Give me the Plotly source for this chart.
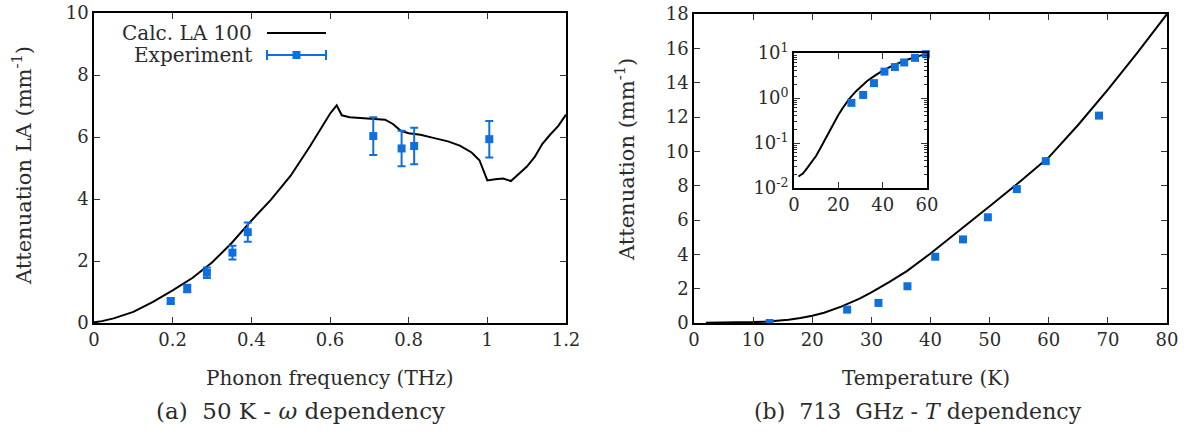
import plotly.graph_objects as go

# ---------------- data ----------------
# (a) attenuation vs phonon frequency at 50 K
freq_calc = [0.0, 0.02, 0.05, 0.10, 0.15, 0.20, 0.25, 0.30, 0.35, 0.40, 0.45, 0.50, 0.55, 0.58,
             0.60, 0.617, 0.63, 0.65, 0.68, 0.71, 0.74, 0.76, 0.78, 0.80, 0.83, 0.86, 0.90,
             0.93, 0.96, 0.98, 0.99, 1.00, 1.02, 1.04, 1.06, 1.08, 1.10, 1.12, 1.14, 1.16,
             1.18, 1.20]
atten_calc = [0.02, 0.06, 0.15, 0.36, 0.68, 1.05, 1.45, 1.95, 2.58, 3.30, 3.98, 4.75, 5.72, 6.35,
              6.75, 7.02, 6.70, 6.64, 6.62, 6.60, 6.56, 6.42, 6.20, 6.12, 6.07, 5.98, 5.86,
              5.72, 5.50, 5.25, 4.90, 4.60, 4.64, 4.66, 4.58, 4.80, 5.04, 5.35, 5.78, 6.08,
              6.35, 6.72]
freq_exp = [0.195, 0.237, 0.287, 0.352, 0.391, 0.710, 0.782, 0.814, 1.005]
atten_exp = [0.71, 1.11, 1.62, 2.27, 2.93, 6.03, 5.63, 5.71, 5.93]
err_exp = [0.08, 0.12, 0.17, 0.22, 0.31, 0.61, 0.57, 0.59, 0.59]

# (b) attenuation vs temperature at 713 GHz
temp_calc = [2, 4, 6, 8, 10, 12, 14, 16, 18, 20, 22, 25, 28, 30, 33, 36, 40, 45, 50, 55, 60,
             65, 70, 75, 80]
atten_t_calc = [0.018, 0.021, 0.028, 0.038, 0.052, 0.078, 0.12, 0.19, 0.29, 0.42, 0.60, 0.97,
                1.42, 1.78, 2.38, 3.02, 4.05, 5.40, 6.80, 8.20, 9.65, 11.55, 13.60, 15.75,
                18.0]
temp_exp = [12.8, 25.9, 31.2, 36.1, 40.8, 45.5, 49.7, 54.6, 59.5, 68.5]
atten_t_exp = [0.0, 0.78, 1.17, 2.14, 3.86, 4.87, 6.16, 7.80, 9.43, 12.08]

# inset tick labels
inset_tickvals = [0.01, 0.1, 1, 10]
inset_ticktext = ["10<sup>-2</sup>", "10<sup>-1</sup>", "10<sup>0</sup>", "10<sup>1</sup>"]
inset_minor = [m * d for d in (0.01, 0.1, 1) for m in range(2, 10)]

BLUE = "#0f6fdc"
TXT = "#2b2b2b"
FONT = "DejaVu Serif"
W, H = 1192, 433


def px(x):
    return x / W


def py(y):
    return 1 - y / H


fig = go.Figure()
fig.add_trace(go.Scatter(x=freq_calc, y=atten_calc, mode="lines",
                         line=dict(color="black", width=2), xaxis="x", yaxis="y"))
fig.add_trace(go.Scatter(x=freq_exp, y=atten_exp, mode="markers",
                         marker=dict(symbol="square", size=8, color=BLUE),
                         error_y=dict(type="data", array=err_exp, color=BLUE,
                                      thickness=2, width=4),
                         xaxis="x", yaxis="y"))
fig.add_trace(go.Scatter(x=temp_calc, y=atten_t_calc, mode="lines",
                         line=dict(color="black", width=2), xaxis="x2", yaxis="y2"))
fig.add_trace(go.Scatter(x=temp_exp, y=atten_t_exp, mode="markers",
                         marker=dict(symbol="square", size=8, color=BLUE),
                         xaxis="x2", yaxis="y2"))
# inset (log scale), points up to 60 K
fig.add_trace(go.Scatter(x=temp_calc, y=atten_t_calc, mode="lines",
                         line=dict(color="black", width=2), xaxis="x3", yaxis="y3"))
fig.add_trace(go.Scatter(x=temp_exp[:-1], y=atten_t_exp[:-1], mode="markers",
                         marker=dict(symbol="square", size=8, color=BLUE),
                         xaxis="x3", yaxis="y3", cliponaxis=False))

axis_common = dict(showline=True, linecolor="black", linewidth=1.6, mirror="ticks",
                   ticks="inside", ticklen=6, tickwidth=1.2, tickcolor="#333",
                   showgrid=False, zeroline=False, automargin=False,
                   tickfont=dict(family=FONT, size=18, color=TXT))

fig.update_layout(
    width=W, height=H, margin=dict(l=0, r=0, t=0, b=0, autoexpand=False),
    paper_bgcolor="white", plot_bgcolor="white", showlegend=False,
    xaxis=dict(domain=[px(94), px(566)], range=[0, 1.2], dtick=0.2, anchor="y", **axis_common),
    yaxis=dict(domain=[py(323), py(13)], range=[0, 10], dtick=2, anchor="x", **axis_common),
    xaxis2=dict(domain=[px(694), px(1167)], range=[0, 80], dtick=10, anchor="y2", **axis_common),
    yaxis2=dict(domain=[py(323), py(14)], range=[0, 18], dtick=2, anchor="x2", **axis_common),
    xaxis3=dict(domain=[px(794), px(927)], range=[0, 60], dtick=20, anchor="y3", **axis_common),
    yaxis3=dict(domain=[py(188), py(53)], type="log", range=[-2, 1], anchor="x3",
                tickvals=inset_tickvals, ticktext=inset_ticktext,
                minor=dict(ticks="inside", ticklen=3, tickcolor="#333", showgrid=False,
                           tickvals=inset_minor),
                **axis_common),
)

ann = []


def text(x, y, s, size=20, xanchor="center", angle=0):
    ann.append(dict(x=px(x), y=py(y), xref="paper", yref="paper", text=s, showarrow=False,
                    xanchor=xanchor, yanchor="middle", textangle=angle,
                    font=dict(family=FONT, size=size, color=TXT)))


text(330, 378, "Phonon frequency (THz)")
text(926, 378, "Temperature (K)")
text(300, 411, "(a)&nbsp;&nbsp;50 K - <i>ω</i> dependency", size=23)
text(918, 411, "(b)&nbsp;&nbsp;713&nbsp;&nbsp;GHz - <i>T</i> dependency", size=22)
text(22, 166, "Attenuation LA (mm<sup>-1</sup>)", angle=-90, size=21)
text(625, 160, "Attenuation (mm<sup>-1</sup>)", angle=-90, size=21)
# legend (gnuplot style: text left, sample right)
text(254, 33, "Calc. LA 100", xanchor="right")
text(254, 55, "Experiment", xanchor="right")

shapes = [
    dict(type="line", xref="paper", yref="paper", x0=px(267), x1=px(326), y0=py(33), y1=py(33),
         line=dict(color="black", width=2)),
    dict(type="line", xref="paper", yref="paper", x0=px(267), x1=px(326), y0=py(55), y1=py(55),
         line=dict(color=BLUE, width=2)),
    dict(type="line", xref="paper", yref="paper", x0=px(267), x1=px(267), y0=py(50), y1=py(60),
         line=dict(color=BLUE, width=2)),
    dict(type="line", xref="paper", yref="paper", x0=px(326), x1=px(326), y0=py(50), y1=py(60),
         line=dict(color=BLUE, width=2)),
    dict(type="rect", xref="paper", yref="paper", x0=px(292.5), x1=px(300.5), y0=py(51), y1=py(59),
         line=dict(width=0), fillcolor=BLUE),
]

fig.update_layout(annotations=ann, shapes=shapes)
# remove the browser's default 8px body margin so the figure fills the window exactly
fig.write_html("out.html", config={"displayModeBar": False},
               post_script="document.body.style.margin='0px';document.body.style.overflow='hidden';")
